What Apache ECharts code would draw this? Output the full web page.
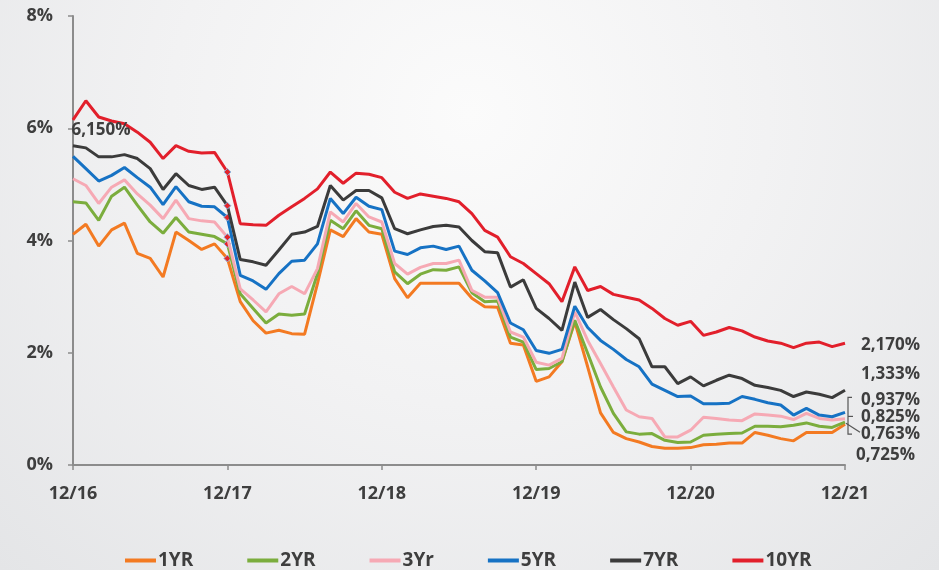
<!DOCTYPE html>
<html>
<head>
<meta charset="utf-8">
<script src="https://cdn.jsdelivr.net/npm/echarts@6/dist/echarts.min.js"></script>
<style>
  html, body { margin: 0; padding: 0; }
  body {
    width: 939px; height: 570px; overflow: hidden;
    background: radial-gradient(ellipse at 50% 20%, #fbfbfb 0%, #f2f2f3 45%, #e4e5e7 100%);
  }
  #chart { width: 939px; height: 570px; }
</style>
</head>
<body>
<div id="chart"></div>
<script>
// months from 12/16 to 12/21
const months = [
  '12/16',
  '01/17','02/17','03/17','04/17','05/17','06/17','07/17','08/17','09/17','10/17','11/17','12/17',
  '01/18','02/18','03/18','04/18','05/18','06/18','07/18','08/18','09/18','10/18','11/18','12/18',
  '01/19','02/19','03/19','04/19','05/19','06/19','07/19','08/19','09/19','10/19','11/19','12/19',
  '01/20','02/20','03/20','04/20','05/20','06/20','07/20','08/20','09/20','10/20','11/20','12/20',
  '01/21','02/21','03/21','04/21','05/21','06/21','07/21','08/21','09/21','10/21','11/21','12/21'
];
const yTicks = [0, 2, 4, 6, 8];

const yr1 = [4.11,4.29,3.90,4.19,4.31,3.77,3.68,3.35,4.15,4.00,3.84,3.94,3.68,2.91,2.57,2.35,2.40,2.34,2.33,3.23,4.19,4.07,4.39,4.15,4.11,3.32,2.98,3.24,3.24,3.24,3.24,2.97,2.82,2.81,2.17,2.14,1.49,1.57,1.84,2.55,1.75,0.93,0.58,0.47,0.41,0.33,0.30,0.30,0.31,0.36,0.37,0.39,0.39,0.58,0.53,0.47,0.43,0.58,0.58,0.58,0.725];
const yr2 = [4.69,4.67,4.36,4.79,4.95,4.63,4.33,4.13,4.41,4.15,4.11,4.07,3.94,3.05,2.79,2.53,2.69,2.67,2.69,3.41,4.36,4.21,4.53,4.27,4.21,3.44,3.23,3.40,3.48,3.47,3.53,3.07,2.91,2.92,2.28,2.19,1.70,1.72,1.84,2.58,1.99,1.39,0.92,0.59,0.55,0.56,0.44,0.40,0.41,0.53,0.55,0.56,0.57,0.69,0.69,0.68,0.71,0.75,0.69,0.67,0.763];
const yr3 = [5.10,4.98,4.66,4.95,5.08,4.83,4.63,4.39,4.72,4.39,4.35,4.33,4.06,3.14,2.94,2.73,3.05,3.18,3.05,3.50,4.51,4.33,4.66,4.42,4.33,3.59,3.40,3.52,3.59,3.59,3.65,3.11,2.99,2.99,2.37,2.28,1.83,1.78,1.90,2.73,2.22,1.81,1.39,0.98,0.86,0.83,0.50,0.50,0.62,0.85,0.83,0.80,0.79,0.91,0.89,0.87,0.81,0.92,0.83,0.80,0.825];
const yr5 = [5.50,5.28,5.06,5.16,5.30,5.12,4.95,4.64,4.96,4.69,4.61,4.60,4.41,3.38,3.28,3.13,3.41,3.63,3.65,3.94,4.75,4.48,4.77,4.61,4.55,3.81,3.75,3.87,3.90,3.84,3.90,3.47,3.28,3.07,2.53,2.41,2.04,1.99,2.06,2.83,2.45,2.22,2.06,1.88,1.75,1.44,1.33,1.22,1.23,1.09,1.09,1.10,1.22,1.17,1.11,1.07,0.89,1.01,0.89,0.86,0.937];
const yr7 = [5.69,5.65,5.49,5.49,5.53,5.46,5.28,4.91,5.19,4.98,4.91,4.95,4.62,3.66,3.62,3.56,3.83,4.11,4.15,4.25,4.98,4.72,4.89,4.89,4.76,4.21,4.12,4.19,4.25,4.27,4.24,4.00,3.80,3.78,3.17,3.30,2.79,2.61,2.40,3.26,2.63,2.77,2.59,2.43,2.25,1.75,1.75,1.45,1.57,1.41,1.51,1.60,1.54,1.42,1.38,1.33,1.22,1.30,1.26,1.20,1.333];
const yr10 = [6.15,6.49,6.20,6.13,6.08,5.93,5.75,5.46,5.69,5.59,5.56,5.57,5.22,4.30,4.28,4.27,4.45,4.60,4.75,4.92,5.22,5.02,5.20,5.18,5.12,4.86,4.75,4.83,4.79,4.75,4.69,4.48,4.18,4.06,3.71,3.59,3.41,3.23,2.91,3.53,3.11,3.18,3.04,2.99,2.94,2.79,2.61,2.49,2.56,2.31,2.37,2.45,2.39,2.28,2.21,2.17,2.09,2.17,2.19,2.11,2.17];

const names = ['1YR', '2YR', '3Yr', '5YR', '7YR', '10YR'];
const colors = ['#f37a22', '#7bad3d', '#f6a9b4', '#1672c4', '#3b3b3b', '#e21f2b'];
const endOffsets = [[3, 31], [8, 12], [8, -2], [8, -12], [8, -16], [8, 2]];

const textColor = '#3e3e3e';
const font = 'Open Sans';

function pct(v) {
  return v.toFixed(3).replace('.', ',') + '%';
}

function markStart(arr) {
  // small diamond marker at 12/17 as in the original
  return arr.map(function (v, i) {
    if (i === 12) {
      return { value: v, symbol: 'diamond', symbolSize: 7, itemStyle: { color: '#e3242b', borderColor: '#8fb6e0', borderWidth: 1 } };
    }
    return v;
  });
}

const allData = [yr1, yr2, yr3, yr5, yr7, yr10];

const series = allData.map(function (arr, k) {
  const data = markStart(arr);
  if (k === 5) {
    data[0] = {
      value: arr[0],
      symbol: 'circle',
      symbolSize: 1,
      label: {
        show: true, position: 'right', distance: 0, offset: [-2, 10],
        formatter: function (p) { return pct(p.value); },
        color: textColor, fontFamily: font, fontWeight: 'bold', fontSize: 17
      }
    };
  }
  return {
    name: names[k],
    type: 'line',
    data: data,
    symbol: 'none',
    showSymbol: true,
    color: colors[k],
    lineStyle: { width: 3, color: colors[k] },
    animation: false,
    z: 2 + k,
    endLabel: {
      show: true,
      formatter: function (p) { return pct(p.value); },
      color: textColor,
      fontFamily: font,
      fontWeight: 'bold',
      fontSize: 17,
      offset: endOffsets[k]
    }
  };
});

const chart = echarts.init(document.getElementById('chart'));
chart.setOption({
  animation: false,
  backgroundColor: 'transparent',
  grid: { left: 73, right: 94, top: 16, bottom: 105 },
  legend: {
    data: names,
    left: 120,
    top: 546,
    itemWidth: 31,
    itemHeight: 4,
    itemGap: 54,
    icon: 'rect',
    textStyle: { color: textColor, fontFamily: font, fontWeight: 'bold', fontSize: 19, padding: [0, 0, 0, -3] }
  },
  xAxis: {
    type: 'category',
    data: months,
    boundaryGap: false,
    axisLine: { lineStyle: { color: '#8c8c8c', width: 2 } },
    axisTick: {
      show: true, length: 5,
      interval: function (i) { return i % 12 === 0; },
      lineStyle: { color: '#8c8c8c', width: 1.5 }
    },
    axisLabel: {
      interval: function (i) { return i % 12 === 0; },
      margin: 20,
      color: textColor, fontFamily: font, fontWeight: 'bold', fontSize: 18
    },
    splitLine: { show: false }
  },
  yAxis: {
    type: 'value',
    min: yTicks[0],
    max: yTicks[yTicks.length - 1],
    interval: 2,
    axisLine: { show: true, lineStyle: { color: '#8c8c8c', width: 2 } },
    axisTick: { show: true, length: 5, lineStyle: { color: '#8c8c8c', width: 1.5 } },
    axisLabel: {
      margin: 20,
      formatter: function (v) { return v + '%'; },
      color: textColor, fontFamily: font, fontWeight: 'bold', fontSize: 18
    },
    splitLine: { show: false }
  },
  series: series
});

// bracket / leader lines next to the closely spaced end labels
const pBlue = chart.convertToPixel({ seriesIndex: 3 }, [60, yr5[60]]);
const pGreen = chart.convertToPixel({ seriesIndex: 1 }, [60, yr2[60]]);
const bx = pBlue[0] + 3;
const yTop = pBlue[1] - 15;
const yBot = pGreen[1] + 12;
const lineStyle = { stroke: '#555', lineWidth: 1.2, fill: null };
chart.setOption({
  graphic: [
    { type: 'polyline', silent: true, shape: { points: [[bx + 4, yTop], [bx, yTop], [bx, yBot], [bx + 4, yBot]] }, style: lineStyle },
    { type: 'line', silent: true, shape: { x1: bx, y1: yTop + 19, x2: bx + 5, y2: yTop + 19 }, style: lineStyle },
    { type: 'line', silent: true, shape: { x1: bx - 2, y1: pGreen[1] + 1, x2: bx + 12, y2: pGreen[1] + 10 }, style: lineStyle }
  ]
});
</script>
</body>
</html>
